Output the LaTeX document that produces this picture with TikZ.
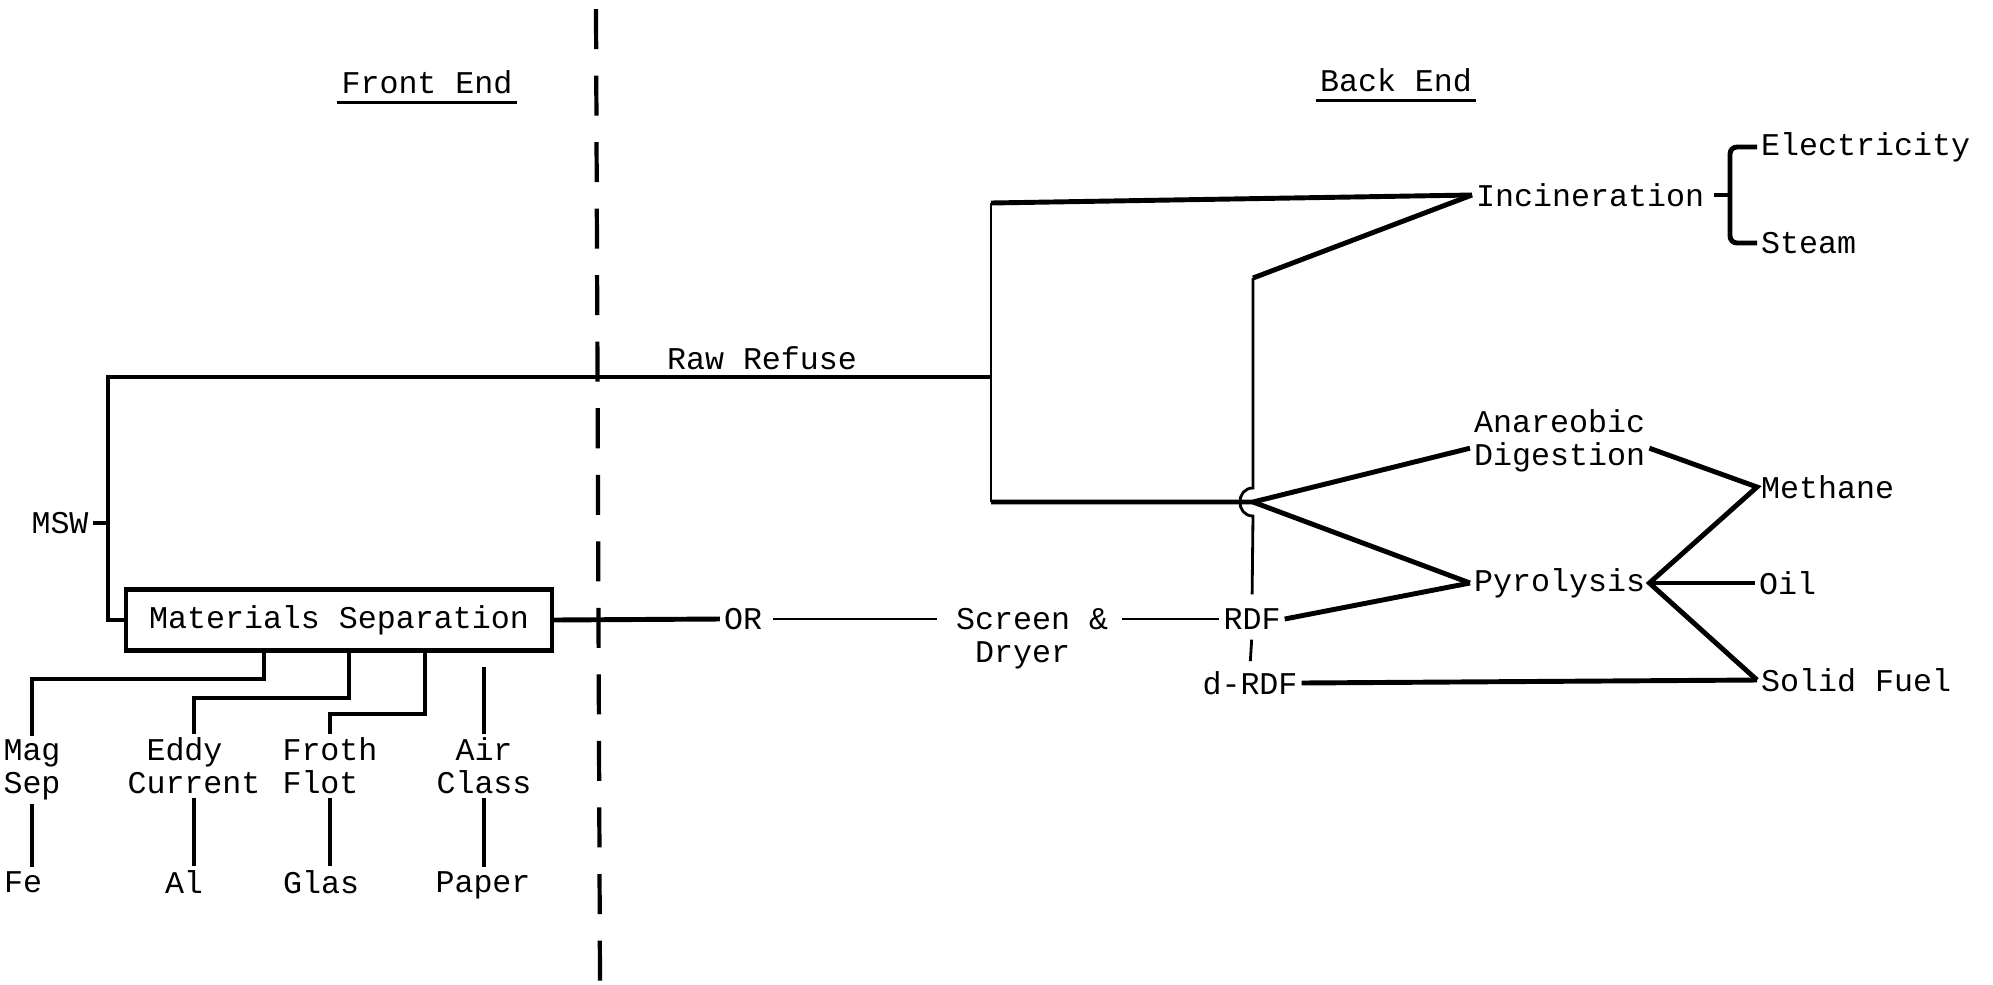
\documentclass[tikz,border=0pt]{standalone}
\usepackage{fontspec}
\setmonofont{Liberation Mono}
\usepackage{tikz}
\newcommand{\tyspace}{\hphantom{x}}

\begin{document}
\begin{tikzpicture}[
  x=0.01cm, y=-0.01cm,
  every node/.style={font=\ttfamily\fontsize{9}{9.3}\selectfont,inner sep=1pt,align=left},
  heavy/.style={line width=1.4pt},
  light/.style={line width=0.8pt},
  procbox/.style={draw,line width=1.2pt,minimum width=4.26cm,minimum height=0.61cm,align=center}
]
\useasboundingbox (0,0) rectangle (1993,984);

% divider between the two halves
\draw[line width=1.2pt,dash pattern=on 4mm off 2.65mm] (596,9) -- (600,984);
\node (front) at (427,82) {Front End};
\node (back) at (1396,80) {Back End};
\draw[line width=0.9pt] ([yshift=-1.2pt]front.south west) -- ([yshift=-1.2pt]front.south east);
\draw[line width=0.9pt] ([yshift=-1.2pt]back.south west) -- ([yshift=-1.2pt]back.south east);

% front end
\node[procbox] (sep) at (339,620) {Materials Separation};
\node (msw) at (60,523) {MSW};
\node (raw) at (762,358) {Raw Refuse};
\node (mag) at (32,770) {Mag\\Sep};
\node (eddy) at (194,766) {\tyspace Eddy\\Current};
\node (froth) at (330,766) {Froth\\Flot};
\node (air) at (484,766) {\tyspace Air\\Class};
\node[anchor=west] (fe) at (0,882) {Fe};
\node (al) at (184,882) {Al};
\node[anchor=west] (glas) at (279,882) {Glas};
\node (paper) at (483,885) {Paper};

\coordinate (tl) at (108,377);
\coordinate (split) at (991,377);
\coordinate (m1) at (264,679);
\coordinate (e1) at (349,698);
\coordinate (f1) at (425,714);

\draw[heavy] (msw.east) -- (msw.east -| tl);
\draw[heavy] (sep.west) -| (tl) -- (split);
\draw[heavy] (m1 |- sep.south) -- (m1) -| (mag.north);
\draw[heavy] (e1 |- sep.south) -- (e1) -| (eddy.north);
\draw[heavy] (f1 |- sep.south) -- (f1) -| (froth.north);
\draw[heavy, shorten >=1.4mm] (air.north) -- (air.north |- sep.south);
\draw[heavy] (mag.south) -- (mag.south |- fe.north);
\draw[heavy] (eddy.south) -- (eddy.south |- al.north);
\draw[heavy] (froth.south) -- (froth.south |- glas.north);
\draw[heavy] (air.south) -- (air.south |- paper.north);

% middle row
\node (or) at (743,619) {OR};
\node[anchor=west] (scr) at (952,639) {Screen \&\\\tyspace Dryer};
\node (rdf) at (1252,619) {RDF};
\node (drdf) at (1250,683) {d-RDF};
\draw[heavy] (sep.east) -- (or.west);
\draw[light, shorten <=0.7mm, shorten >=1.5mm] (or.east) -- (or.east -| scr.west);
\draw[light, shorten <=1mm] (scr.east |- rdf.west) -- (rdf.west);
\draw[light, shorten <=0.6mm, shorten >=0.6mm] (rdf.south) -- (drdf.north);

% back end
\node[anchor=west] (inc) at (1472,195) {Incineration};
\node[anchor=west] (elec) at (1757,147) {Electricity};
\node[anchor=west] (steam) at (1757,243) {Steam};
\node[anchor=west] (dig) at (1470,441) {Anareobic\\Digestion};
\node[anchor=west] (meth) at (1757,487) {Methane};
\node[anchor=west] (pyr) at (1470,583) {Pyrolysis};
\node[anchor=west] (oil) at (1755,583) {Oil};
\node[anchor=west] (sf) at (1757,680) {Solid Fuel};

\coordinate (itop) at (991,203);
\coordinate (ibot) at (991,502);
\coordinate (hub) at (1253,502);
\coordinate (kink) at (1253,278);
\coordinate (hopa) at (1253,488);
\coordinate (hopb) at (1253,516);
\coordinate (brk) at (1730,195);

\draw[light] (itop) -- (ibot);
\draw[heavy] (itop) -- (inc.west);
\draw[heavy] (kink) -- (inc.west);
\draw[light, shorten >=1mm] (kink) -- (hopa) to[out=180,in=180,looseness=1.6] (hopb) -- (rdf.north);
\draw[heavy] (ibot) -- (hub) -- ([yshift=8pt]dig.south west);
\draw[heavy] (hub) -- (pyr.west);
\draw[heavy] (rdf.east) -- (pyr.west);
\draw[heavy] ([yshift=8pt]dig.south east) -- (meth.west) -- (pyr.east) -- (sf.west);
\draw[heavy] (pyr.east) -- (oil.west);
\draw[heavy] (drdf.east) -- (sf.west);
\draw[heavy, shorten <=0.6mm] (inc.east) -- (brk);
\draw[heavy, rounded corners=2pt] (elec.west) -| (brk) |- (steam.west);
\end{tikzpicture}
\end{document}
